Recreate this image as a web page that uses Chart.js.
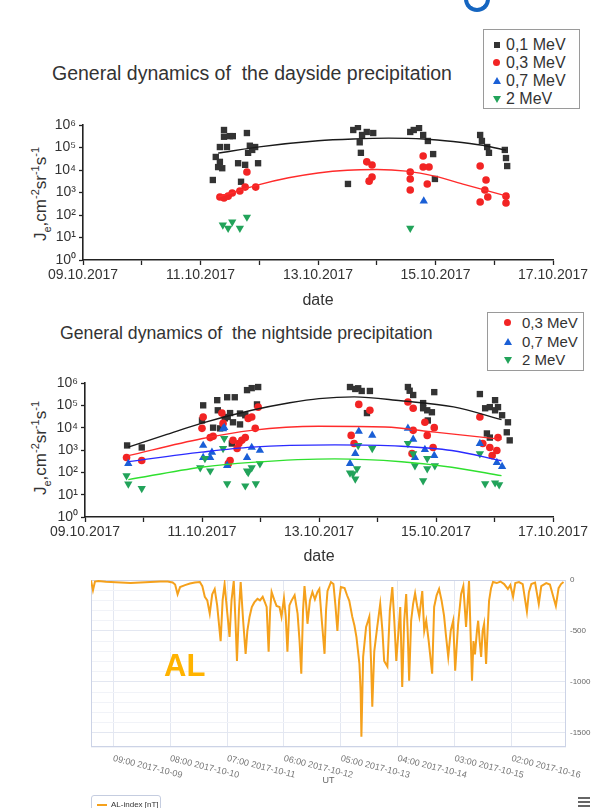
<!DOCTYPE html>
<html>
<head>
<meta charset="utf-8">
<script src="https://cdn.jsdelivr.net/npm/chart.js@4.4.1/dist/chart.umd.min.js"></script>
<style>
  body { margin: 0; background: #fff; font-family: "Liberation Sans", Arial, sans-serif; color: #333; }
  #page { position: relative; width: 593px; height: 808px; overflow: hidden; }
  canvas { position: absolute; left: 0; }
  .title { position: absolute; line-height: 20px; white-space: nowrap; }
  .ylab { position: absolute; font-size: 17px; white-space: nowrap; transform: translate(-50%, -50%) rotate(-90deg); }
  .ylab sub, .ylab sup { font-size: 11px; }
  .legend { position: absolute; border: 1px solid #9a9a9a; background: #fff; }
  .legend .row { position: absolute; font-size: 15px; line-height: 16px; white-space: nowrap; }
  .mk { position: absolute; }
  .sq { width: 6px; height: 6px; background: #333; }
  .ci { width: 7px; height: 7px; border-radius: 50%; background: #f22424; }
  .tu { width: 0; height: 0; border-left: 4px solid transparent; border-right: 4px solid transparent; border-bottom: 7px solid #1a5fd6; }
  .td { width: 0; height: 0; border-left: 4px solid transparent; border-right: 4px solid transparent; border-top: 7px solid #22a35a; }
  #alTag { position: absolute; left: 164px; top: 648px; font-size: 31px; font-weight: bold; color: #ffb300; }
  #alLegend { position: absolute; left: 91px; top: 795px; width: 68px; height: 18px; border: 1px solid #c5cde0; border-radius: 3px; font-size: 8px; color: #333; }
  #alLegend i { position: absolute; left: 5px; top: 8px; width: 10px; height: 2px; background: #f5a11c; }
  #alLegend span { position: absolute; left: 19px; top: 4px; white-space: nowrap; }
  .burger { position: absolute; left: 578px; width: 12px; height: 2px; background: #666; }
  #dot { position: absolute; left: 464px; top: -14px; width: 18px; height: 18px; border: 4px solid #1565c0; border-top-color: transparent; border-radius: 50%; }
</style>
</head>
<body>
<div id="page">
  <div id="dot"></div>

  <div class="title" style="left:52px;top:63px;font-size:19.5px">General dynamics of&nbsp; the dayside precipitation</div>
  <div class="legend" style="left:483px;top:29px;width:95px;height:78px">
    <div class="mk sq" style="left:10px;top:12px"></div><div class="row" style="left:22px;top:7px;font-size:16px">0,1 MeV</div>
    <div class="mk ci" style="left:9px;top:29px"></div><div class="row" style="left:22px;top:25px;font-size:16px">0,3 MeV</div>
    <div class="mk tu" style="left:9px;top:47px"></div><div class="row" style="left:22px;top:43px;font-size:16px">0,7 MeV</div>
    <div class="mk td" style="left:9px;top:66px"></div><div class="row" style="left:22px;top:61px;font-size:16px">2 MeV</div>
  </div>
  <div class="ylab" style="left:41px;top:194px">J<sub>e</sub>,cm<sup>-2</sup>sr<sup>-1</sup>s<sup>-1</sup></div>
  <canvas id="dayChart" width="593" height="205" style="top:110px"></canvas>

  <div class="title" style="left:60px;top:323px;font-size:17.7px">General dynamics of&nbsp; the nightside precipitation</div>
  <div class="legend" style="left:487px;top:312px;width:95px;height:57px">
    <div class="mk ci" style="left:16px;top:6px"></div><div class="row" style="left:34px;top:2px">0,3 MeV</div>
    <div class="mk tu" style="left:16px;top:25px"></div><div class="row" style="left:34px;top:21px">0,7 MeV</div>
    <div class="mk td" style="left:16px;top:44px"></div><div class="row" style="left:34px;top:39px">2 MeV</div>
  </div>
  <div class="ylab" style="left:41px;top:448px">J<sub>e</sub>,cm<sup>-2</sup>sr<sup>-1</sup>s<sup>-1</sup></div>
  <canvas id="nightChart" width="593" height="200" style="top:370px"></canvas>

  <canvas id="alChart" width="593" height="238" style="top:570px"></canvas>
  <div id="alTag">AL</div>
  <div id="alLegend"><i></i><span>AL-index [nT]</span></div>
  <div class="burger" style="top:797px"></div>
  <div class="burger" style="top:801px"></div>
  <div class="burger" style="top:805px"></div>
</div>

<script>
// x = days since 09.10.2017 00:00, y = electron flux
const dateTicks = [0, 1, 2, 3, 4, 5, 6, 7, 8];
const dateLabels = ['09.10.2017', '', '11.10.2017', '', '13.10.2017', '', '15.10.2017', '', '17.10.2017'];
const fluxTicks = [1, 10, 100, 1e3, 1e4, 1e5, 1e6];
const fluxLabels = ['10⁰', '10¹', '10²', '10³', '10⁴', '10⁵', '10⁶'];
const energyLabels = ['0,1 MeV', '0,3 MeV', '0,7 MeV', '2 MeV'];

// dayside
const day01 = [
  [2.21, 3.6e3], [2.26, 3.8e4], [2.33, 1.05e5], [2.40, 3.0e5], [2.40, 6.0e5], [2.37, 1.2e4], [2.33, 2.3e4],
  [2.50, 3.2e5], [2.55, 3.2e5], [2.45, 1.05e5], [2.79, 4.4e5], [2.64, 2.0e4], [2.69, 3.0e3], [2.76, 1.7e4],
  [2.81, 5.8e4], [2.88, 7.8e4], [2.93, 1.05e5], [2.98, 2.0e4], [2.84, 1.2e5], [2.30, 1.35e4],
  [4.60, 6.0e5], [4.68, 8.1e5], [4.75, 3.6e5], [4.83, 4.9e5], [4.94, 4.4e5], [4.71, 1.7e5], [4.73, 5.8e4], [4.51, 2.4e3],
  [5.57, 4.9e5], [5.63, 6.0e5], [5.72, 7.4e5], [5.79, 3.6e5], [5.87, 1.95e5], [5.96, 5.1e4], [5.99, 4.0e3],
  [6.76, 3.6e5], [6.79, 1.95e5], [6.88, 1.05e5], [6.91, 5.8e4], [7.18, 7.8e4], [7.20, 3.4e4], [7.22, 1.5e4]
];
const day03 = [
  [2.33, 630], [2.40, 575], [2.47, 690], [2.54, 955], [2.67, 1.17e3], [2.76, 1.74e3], [2.79, 8.1e3], [2.94, 1.74e3],
  [4.83, 2.3e4], [4.92, 1.66e4], [4.92, 4.9e3], [4.87, 3.2e3],
  [5.57, 8.1e3], [5.57, 4.0e3], [5.57, 1.3e3], [5.79, 4.2e4], [5.79, 1.35e4], [5.89, 1.35e4], [5.86, 2.4e3],
  [6.76, 1.5e4], [6.86, 3.6e3], [6.84, 1.3e3], [6.89, 630], [6.76, 380], [7.20, 690], [7.20, 340]
];
const day07 = [[5.80, 420]];
const day2 = [[2.38, 36], [2.47, 26], [2.54, 49], [2.67, 26], [2.79, 81], [5.57, 26]];
const dayFit01 = [[2.3, 5.6e4], [3.0, 1.07e5], [4.0, 2.0e5], [4.6, 2.4e5], [5.2, 2.6e5], [5.8, 2.4e5], [6.3, 1.86e5], [6.8, 1.26e5], [7.2, 7.6e4]];
const dayFit03 = [[2.3, 630], [3.0, 2.24e3], [3.5, 4.5e3], [4.0, 7.4e3], [4.5, 9.8e3], [5.0, 1.05e4], [5.5, 8.9e3], [6.0, 5.2e3], [6.5, 2.24e3], [7.2, 710]];

// nightside
const night01 = [
  [0.72, 1.6e3], [0.97, 1.3e3],
  [2.02, 1.0e5], [2.26, 1.7e5], [2.43, 2.3e5], [2.56, 2.3e5], [2.77, 4.8e5], [2.85, 5.9e5], [2.96, 6.6e5],
  [2.27, 6.0e4], [2.48, 4.5e4], [2.19, 1.0e4], [2.31, 9.3e3], [2.53, 1.74e4], [2.65, 1.4e4], [2.74, 3.6e4],
  [2.44, 3.0e4], [2.00, 2.1e4], [2.51, 1.95e3], [2.94, 1.1e5], [2.65, 4.3e4], [2.39, 2.6e4],
  [4.53, 6.6e5], [4.62, 5.4e5], [4.73, 4.4e5], [4.87, 4.4e5], [4.67, 5.8e5], [4.82, 4.5e4],
  [5.52, 6.6e5], [5.61, 2.9e5], [5.97, 3.9e5], [5.78, 1.26e5], [5.85, 6.0e4], [5.93, 4.9e4], [5.78, 7.4e4], [5.86, 2.1e4], [5.55, 4.5e5],
  [6.75, 3.2e5], [6.84, 7.4e4], [6.92, 8.3e4], [7.01, 1.7e5], [7.06, 8.3e4], [7.13, 3.6e4], [7.23, 1.74e4],
  [7.21, 6.2e3], [7.26, 2.7e3], [6.87, 5.5e3], [6.92, 3.6e3], [7.01, 6.0e4]
];
const night03 = [
  [0.71, 460], [0.97, 340],
  [2.02, 3.0e4], [2.00, 9.3e3], [2.14, 3.6e3], [2.19, 4.1e3], [2.34, 4.5e4], [2.36, 1.55e4], [2.53, 2.7e3],
  [2.60, 1.17e3], [2.63, 1.95e3], [2.68, 2.7e3], [2.74, 3.6e3], [2.79, 2.6e4], [2.85, 3.0e4], [2.91, 9.3e3],
  [2.96, 8.3e4], [2.48, 340], [2.45, 245],
  [4.68, 1.1e5], [4.87, 6.0e4], [4.55, 4.5e3], [4.60, 1.95e3],
  [5.52, 1.4e5], [5.61, 7.4e4], [5.61, 7.6e3], [5.81, 1.74e4], [5.85, 4.5e3], [5.97, 1.0e4], [5.95, 1.3e3], [5.59, 690],
  [6.75, 3.0e4], [6.80, 1.95e3], [6.92, 1.3e3], [6.96, 560], [7.06, 3.6e3], [7.04, 955]
];
const night07 = [
  [0.74, 245], [2.02, 1.6e3], [2.02, 460], [2.14, 460], [2.17, 780], [2.38, 1.0e4], [2.43, 200], [2.77, 460],
  [2.85, 1.3e3], [2.99, 955], [2.36, 8.9e3],
  [4.68, 6.8e3], [4.91, 4.5e3], [4.62, 690], [4.53, 245],
  [5.52, 9.3e3], [5.61, 3.0e3], [5.64, 460], [5.81, 1.05e3], [5.97, 560],
  [6.75, 1.95e3], [7.04, 275], [7.13, 180]
];
const night2 = [
  [0.71, 71], [0.74, 30], [0.97, 19],
  [1.97, 160], [2.05, 420], [2.14, 117], [2.38, 3.3e3], [2.36, 1.17e3], [2.43, 31], [2.77, 117], [2.85, 160],
  [2.74, 25], [2.92, 31], [2.99, 245], [2.79, 100],
  [4.67, 1.6e3], [4.91, 1.17e3], [4.53, 95], [4.58, 87], [4.62, 51], [4.65, 145],
  [5.52, 1.95e3], [5.61, 690], [5.64, 200], [5.78, 42], [5.85, 420], [5.85, 145], [5.98, 200],
  [6.75, 690], [6.84, 31], [7.01, 34], [7.08, 28]
];
const nightFit01 = [[0.74, 1.35e3], [1.4, 5.0e3], [2.0, 1.6e4], [2.85, 6.0e4], [3.5, 1.3e5], [4.0, 2.0e5], [4.6, 2.4e5], [5.4, 1.6e5], [6.3, 8.5e4], [7.12, 2.3e4]];
const nightFit03 = [[0.74, 560], [1.99, 3.2e3], [2.85, 7.6e3], [3.99, 1.15e4], [5.13, 1.07e4], [5.98, 6.3e3], [7.12, 3.0e3]];
const nightFit07 = [[0.74, 300], [1.99, 800], [2.85, 1.35e3], [4.27, 1.7e3], [5.41, 1.48e3], [6.27, 955], [7.12, 330]];
const nightFit2 = [[0.74, 47], [1.99, 170], [2.85, 280], [4.27, 400], [5.41, 300], [6.27, 170], [7.12, 71]];

// AL index: hours since 2017-10-09 00:00 UT, nT
const alTickHours = [9, 32, 55, 78, 101, 124, 147, 170];
const alTickLabels = ['09:00 2017-10-09', '08:00 2017-10-10', '07:00 2017-10-11', '06:00 2017-10-12',
  '05:00 2017-10-13', '04:00 2017-10-14', '03:00 2017-10-15', '02:00 2017-10-16'];
const alIndex = [
  [0, -5], [0.8, -100], [1.6, -15], [3, -10], [6, -18], [10, -22], [14, -28], [16, -30], [20, -25], [24, -20],
  [28, -15], [31, -15], [33, -25], [34, -45], [35, -140], [36, -70], [38, -50], [40, -35], [42, -25], [44, -20],
  [45, -60], [46, -165], [47, -200], [48, -330], [49, -140], [50, -90], [51, -250], [52.4, -600], [53.2, -200], [54, -40],
  [55, -300], [56, -560], [56.8, -200], [57.7, -10], [58.4, -400], [59, -795], [59.8, -300], [60.5, -20], [61.5, -400], [62.5, -725],
  [63.2, -500], [64.1, -360], [65, -265], [66, -220], [67.3, -185], [68.3, -200], [69.4, -165], [70.3, -220], [71, -265], [71.8, -705],
  [72.4, -300], [73, -118], [74, -190], [75, -255], [76.2, -265], [77, -360], [78, -180], [78.7, -350], [79.4, -705], [80.2, -250],
  [81, -205], [82.3, -150], [83.5, -330], [84.3, -600], [85, -920], [85.7, -300], [86.3, -60], [87, -250], [87.5, -430], [88.5, -200],
  [89.5, -118], [90.5, -190], [91.5, -120], [92.3, -88], [93.3, -400], [94.4, -725], [95, -300], [95.6, -108], [97, -20], [98, -40],
  [98.8, -250], [99.6, -500], [100.3, -200], [101, -70], [102.5, -80], [103.5, -150], [104.4, -205], [105.6, -360], [106.5, -450], [107.3, -560],
  [108.5, -825], [109, -1100], [109.3, -1540], [110, -755], [111.2, -460], [112, -400], [112.5, -360], [113.2, -800], [113.7, -1245], [114.5, -700],
  [115.7, -460], [116.9, -235], [117.8, -500], [118.5, -795], [119.8, -850], [120.8, -300], [121.8, -70], [122.6, -400], [123.4, -795], [124.3, -500],
  [125, -265], [125.8, -1050], [126.6, -400], [127.4, -137], [128, -500], [128.6, -990], [129.4, -400], [130.2, -235], [131, -130], [131.8, -250],
  [132.7, -360], [133.9, -108], [134.7, -500], [135.5, -400], [136.5, -600], [137.9, -920], [138.7, -265], [139.7, -150], [140.7, -88], [141.7, -200],
  [142.7, -350], [143.5, -550], [144.4, -755], [145.4, -500], [146.4, -400], [147.2, -890], [148.4, -430], [149.6, -137], [150.5, -60], [151.6, -460],
  [152.8, -10], [153.4, -500], [154, -990], [154.6, -600], [155.2, -730], [156, -500], [156.5, -400], [157.1, -600], [157.7, -755], [158.3, -500],
  [158.9, -430], [159.7, -825], [160.3, -500], [160.9, -205], [161.7, -80], [162.5, -20], [164, -30], [165.5, -15], [167, -40], [168.5, -88],
  [169.5, -50], [170.6, -165], [171.5, -30], [173, -20], [174.5, -40], [176.2, -310], [177, -120], [178, -40], [179.5, -25], [181, -235],
  [182, -60], [184, -30], [185.5, -45], [187.9, -255], [189, -80], [190, -40], [191, -20]
];

const markerColors = ['#333333', '#f22424', '#1a5fd6', '#22a35a'];
const markerShapes = ['rect', 'circle', 'triangle', 'triangle'];
const markerSizes = [4.5, 3.8, 4.8, 4.8];
const markerRotation = [0, 0, 0, 180];
const fitColors = ['#1a1a1a', '#ff2b2b', '#2b2bff', '#2fe02f'];

const toXY = arr => arr.map(p => ({ x: p[0], y: p[1] }));

function fluxChart(id, series, fits, box) {
  const datasets = [];
  fits.forEach((f, i) => {
    if (!f) return;
    datasets.push({
      type: 'line', data: toXY(f), borderColor: fitColors[i], borderWidth: 1.4,
      pointRadius: 0, tension: 0.4, cubicInterpolationMode: 'monotone', fill: false, order: 0
    });
  });
  series.forEach((s, i) => {
    if (!s) return;
    datasets.push({
      label: energyLabels[i], data: toXY(s),
      backgroundColor: markerColors[i], borderColor: markerColors[i], borderWidth: 0,
      pointStyle: markerShapes[i], pointRadius: markerSizes[i], rotation: markerRotation[i], order: 4 - i
    });
  });

  return new Chart(document.getElementById(id), {
    type: 'scatter',
    data: { datasets },
    options: {
      responsive: false,
      animation: false,
      layout: { padding: { top: box.top, right: 40, left: 0, bottom: 0 } },
      plugins: { legend: { display: false }, tooltip: { enabled: false } },
      scales: {
        x: {
          type: 'linear', min: 0, max: 8,
          afterBuildTicks: s => { s.ticks = dateTicks.map(v => ({ value: v })); },
          afterFit: s => { s.height = box.xHeight; },
          ticks: {
            callback: (v, i) => dateLabels[i], autoSkip: false, maxRotation: 0, padding: 2,
            color: '#333', font: { family: 'Liberation Sans', size: 14 }
          },
          grid: { drawOnChartArea: false, color: '#222', tickLength: 5, tickWidth: 1.3 },
          border: { color: '#222', width: 1.6 },
          title: {
            display: true, text: 'date', color: '#333',
            font: { family: 'Liberation Sans', size: 16 }, padding: { top: 0, bottom: box.datePad }
          }
        },
        y: {
          type: 'logarithmic', min: 1, max: 1e6,
          afterBuildTicks: s => { s.ticks = fluxTicks.map(v => ({ value: v })); },
          afterFit: s => { s.width = box.yWidth; },
          ticks: {
            callback: (v, i) => fluxLabels[i], autoSkip: false, padding: 3,
            color: '#333', font: { family: 'Liberation Sans', size: 14 }
          },
          grid: { drawOnChartArea: false, color: '#222', tickLength: 4, tickWidth: 1.3 },
          border: { color: '#222', width: 1.6 }
        }
      }
    }
  });
}

fluxChart('dayChart', [day01, day03, day07, day2], [dayFit01, dayFit03, null, null],
  { top: 15, xHeight: 55, yWidth: 83, datePad: 5 });
fluxChart('nightChart', [night01, night03, night07, night2], [nightFit01, nightFit03, nightFit07, nightFit2],
  { top: 13, xHeight: 53, yWidth: 85, datePad: 4 });

// light frame round the AL plot area
const plotFrame = {
  id: 'plotFrame',
  beforeDatasetsDraw(chart) {
    const { ctx, chartArea: a } = chart;
    ctx.save();
    ctx.strokeStyle = '#ccd3e6';
    ctx.lineWidth = 1;
    ctx.strokeRect(a.left + 0.5, a.top + 0.5, a.width - 1, a.height - 1);
    ctx.restore();
  }
};

// time labels slanting down to the right, starting at each tick
const slantedLabels = {
  id: 'slantedLabels',
  afterDraw(chart) {
    const xs = chart.scales.x;
    const ctx = chart.ctx;
    ctx.save();
    ctx.font = '9px "Liberation Sans"';
    ctx.fillStyle = '#777';
    ctx.textBaseline = 'top';
    alTickHours.forEach((h, i) => {
      ctx.save();
      ctx.translate(xs.getPixelForValue(h) + 1, xs.top + 7);
      ctx.rotate(14 * Math.PI / 180);
      ctx.fillText(alTickLabels[i], 0, 0);
      ctx.restore();
    });
    ctx.restore();
  }
};

new Chart(document.getElementById('alChart'), {
  type: 'line',
  data: {
    datasets: [{
      label: 'AL-index [nT]', data: toXY(alIndex),
      borderColor: '#f5a11c', borderWidth: 2, pointRadius: 0, tension: 0, fill: false
    }]
  },
  options: {
    responsive: false,
    animation: false,
    layout: { padding: { top: 10, right: 0, left: 91, bottom: 0 } },
    plugins: { legend: { display: false }, tooltip: { enabled: false } },
    scales: {
      x: {
        type: 'linear', min: 0, max: 192,
        afterBuildTicks: s => { s.ticks = alTickHours.map(v => ({ value: v })); },
        afterFit: s => { s.height = 61; },
        ticks: { display: false },
        grid: { color: '#e3e7f1', drawTicks: false },
        border: { display: false },
        title: {
          display: true, text: 'UT', color: '#666',
          font: { family: 'Liberation Sans', size: 9 }, padding: { top: 0, bottom: 22 }
        }
      },
      y: {
        position: 'right', min: -1640, max: 0,
        afterFit: s => { s.width = 27; },
        ticks: {
          stepSize: 100, autoSkip: false, padding: 4, color: '#666',
          font: { family: 'Liberation Sans', size: 8 },
          callback: v => (v % 500 === 0 ? String(v) : '')
        },
        grid: {
          drawTicks: false,
          color: ctx => (ctx.tick && ctx.tick.value % 500 === 0 ? '#e3e7f1' : '#f1f3f8')
        },
        border: { display: false }
      }
    }
  },
  plugins: [plotFrame, slantedLabels]
});
</script>
</body>
</html>
